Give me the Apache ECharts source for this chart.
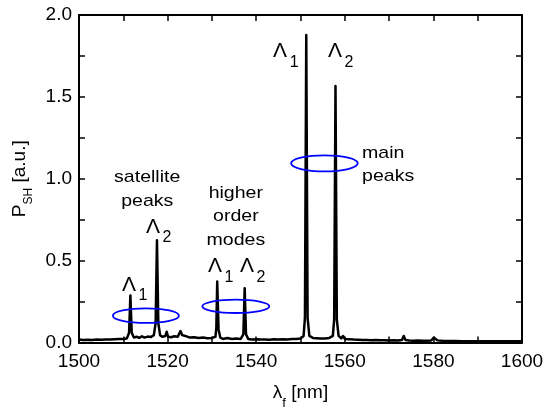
<!DOCTYPE html>
<html>
<head>
<meta charset="utf-8">
<script src="https://cdn.jsdelivr.net/npm/echarts@6/dist/echarts.min.js"></script>
<style>
  html, body { margin: 0; padding: 0; background: #fff; }
  #chart { width: 545px; height: 409px; }
</style>
</head>
<body>
<div id="chart"></div>
<script>
// SH spectrum: fundamental wavelength (nm) vs. second-harmonic power (a.u.)
const wavelength = [
  1500, 1501, 1502, 1503, 1504, 1505, 1506, 1507, 1508, 1509, 1510, 1510.8,
  1511.3, 1511.6, 1511.9, 1512.4, 1513, 1513.6, 1514.2, 1514.8, 1515.5, 1516.2,
  1516.9, 1517.3, 1517.6, 1517.9, 1518.3, 1518.8, 1519.5, 1519.8, 1520.1, 1520.8,
  1521.5, 1522.3, 1522.9, 1523.3, 1524, 1525, 1526, 1527, 1528, 1529, 1530,
  1530.8, 1531.0, 1531.2, 1531.5, 1531.9, 1532.5, 1533.5, 1534.5, 1535.5, 1536.5,
  1537.1, 1537.4, 1537.7, 1538.2, 1539, 1540, 1541, 1542, 1543, 1544, 1545,
  1546, 1547, 1548, 1549, 1550, 1550.7, 1551.0, 1551.3, 1551.6, 1552.0, 1552.8,
  1553.6, 1554.5, 1555.5, 1556.5, 1557.3, 1557.6, 1557.9, 1558.2, 1558.6, 1559.2,
  1559.6, 1560, 1561, 1562, 1563, 1564, 1565, 1566, 1567, 1568, 1569, 1570, 1571,
  1572, 1572.9, 1573.3, 1573.7, 1574.5, 1575.5, 1576.5, 1577.5, 1578.5, 1579.5,
  1580.1, 1580.5, 1580.9, 1582, 1583.5, 1585, 1586.5, 1588, 1589.6, 1590, 1590.4,
  1592, 1594, 1596, 1598, 1600
];
const power = [
  0.018, 0.016, 0.017, 0.015, 0.018, 0.017, 0.019, 0.018, 0.020, 0.021, 0.022, 0.025,
  0.060, 0.287, 0.060, 0.030, 0.035, 0.028, 0.038, 0.030, 0.036, 0.033,
  0.045, 0.120, 0.625, 0.120, 0.045, 0.035, 0.040, 0.066, 0.035, 0.032,
  0.038, 0.035, 0.070, 0.045, 0.040, 0.030, 0.032, 0.027, 0.030, 0.026, 0.028,
  0.035, 0.090, 0.373, 0.080, 0.030, 0.022, 0.027, 0.022, 0.025, 0.022,
  0.050, 0.332, 0.050, 0.022, 0.018, 0.020, 0.018, 0.019, 0.017, 0.020, 0.018,
  0.020, 0.019, 0.021, 0.022, 0.025, 0.040, 0.150, 1.878, 0.150, 0.040, 0.028,
  0.026, 0.024, 0.025, 0.028, 0.040, 0.140, 1.566, 0.140, 0.040, 0.025,
  0.040, 0.022, 0.020, 0.018, 0.017, 0.015, 0.016, 0.014, 0.015, 0.013, 0.014, 0.012, 0.013,
  0.012, 0.015, 0.040, 0.015, 0.012, 0.011, 0.012, 0.010, 0.011, 0.012,
  0.030, 0.028, 0.013, 0.010, 0.009, 0.009, 0.008, 0.008, 0.008, 0.018, 0.008,
  0.007, 0.007, 0.008, 0.007, 0.007
];

// Group annotations (data coordinates of text centre)
const groupNames = ['satellite\npeaks', 'higher\norder\nmodes', 'main\npeaks'];
const groupAnchors = [[1515.4, 0.935], [1535.4, 0.77], [1563.9, 1.084]];

// Grating period labels Λ1 / Λ2 (data coordinates of the Λ glyph)
const periodSubs = ['1', '2', '1', '2', '1', '2'];
const periodAnchors = [
  [1511.3, 0.351], [1516.7, 0.707],
  [1530.7, 0.463], [1537.9, 0.463],
  [1545.4, 1.776], [1557.8, 1.776]
];

// Rings around each peak pair (data coordinates of the centre)
const ringAnchors = [[1515.1, 0.164], [1535.4, 0.221], [1555.4, 1.094]];

const FONT = '"Liberation Sans", Arial, Helvetica, sans-serif';

const chart = echarts.init(document.getElementById('chart'), null, { renderer: 'canvas' });

const frameAxis = {
  axisLine: { show: true, onZero: false, lineStyle: { color: '#000', width: 2 } },
  axisTick: { show: true, inside: true, length: 6, lineStyle: { color: '#000', width: 1.5 } },
  minorTick: { show: true, splitNumber: 2, length: 6, lineStyle: { color: '#000', width: 1.5 } },
  splitLine: { show: false },
  minorSplitLine: { show: false }
};

const option = {
  animation: false,
  backgroundColor: '#fff',
  grid: { left: 79, right: 23, top: 15, bottom: 66.5, containLabel: false, outerBoundsMode: 'none' },
  xAxis: [
    Object.assign({
      type: 'value', min: 1500, max: 1600, interval: 20, position: 'bottom',
      name: '{m|λ}{s|f}{m| [nm]}',
      nameLocation: 'middle', nameGap: 41,
      nameTextStyle: {
        color: '#000', fontFamily: FONT,
        rich: {
          m: { fontSize: 19, fontFamily: FONT, color: '#000', lineHeight: 20, verticalAlign: 'top' },
          s: { fontSize: 13, fontFamily: FONT, color: '#000', lineHeight: 40 }
        }
      },
      axisLabel: { color: '#000', fontSize: 19, fontFamily: FONT, margin: 10, formatter: v => String(v) }
    }, frameAxis),
    Object.assign({
      type: 'value', min: 1500, max: 1600, interval: 20, position: 'top',
      axisLabel: { show: false }
    }, frameAxis)
  ],
  yAxis: [
    Object.assign({
      type: 'value', min: 0, max: 2, interval: 0.5, position: 'left',
      name: '{m|P}{s|SH}{m| [a.u.]}',
      nameLocation: 'middle', nameGap: 29, nameRotate: 90,
      nameTextStyle: {
        color: '#000', fontFamily: FONT,
        rich: {
          m: { fontSize: 19, fontFamily: FONT, color: '#000', lineHeight: 20, verticalAlign: 'top' },
          s: { fontSize: 12, fontFamily: FONT, color: '#000', lineHeight: 36 }
        }
      },
      axisLabel: {
        color: '#000', fontSize: 19, fontFamily: FONT, margin: 7,
        formatter: v => v.toFixed(1)
      }
    }, frameAxis),
    Object.assign({
      type: 'value', min: 0, max: 2, interval: 0.5, position: 'right',
      axisLabel: { show: false }
    }, frameAxis)
  ],
  series: [{
    type: 'line',
    xAxisIndex: 0, yAxisIndex: 0,
    showSymbol: false,
    symbol: 'none',
    lineStyle: { color: '#000', width: 2.5, join: 'round' },
    data: wavelength.map((w, i) => [w, power[i]]),
    z: 3
  }]
};

chart.setOption(option);

// Annotations placed through the axis scales
const toPx = p => chart.convertToPixel({ xAxisIndex: 0, yAxisIndex: 0 }, p);
const graphics = [];

ringAnchors.forEach((a, i) => {
  const [cx, cy] = toPx(a);
  graphics.push({
    type: 'ellipse', z: 10,
    shape: { cx, cy, rx: [33, 33.5, 33.3][i], ry: [7.3, 6.7, 8][i] },
    style: { fill: 'none', stroke: '#0000ff', lineWidth: 1.8 }
  });
});

groupNames.forEach((t, i) => {
  const [x, y] = toPx(groupAnchors[i]);
  const left = i === 2;
  graphics.push({
    type: 'text', z: 10, x, y, scaleX: 1.15,
    style: {
      text: t, fill: '#000', font: '17px ' + FONT, lineHeight: 23.5,
      align: left ? 'left' : 'center', verticalAlign: 'middle'
    }
  });
});

periodAnchors.forEach((a, i) => {
  const [x, y] = toPx(a);
  graphics.push({
    type: 'text', z: 10, x, y,
    style: { text: 'Λ', fill: '#000', font: '21px ' + FONT, align: 'center', verticalAlign: 'middle' }
  });
  graphics.push({
    type: 'text', z: 10, x: x + 14, y: y + 11,
    style: { text: periodSubs[i], fill: '#000', font: '16px ' + FONT, align: 'center', verticalAlign: 'middle' }
  });
});

chart.setOption({ graphic: graphics });
</script>
</body>
</html>
